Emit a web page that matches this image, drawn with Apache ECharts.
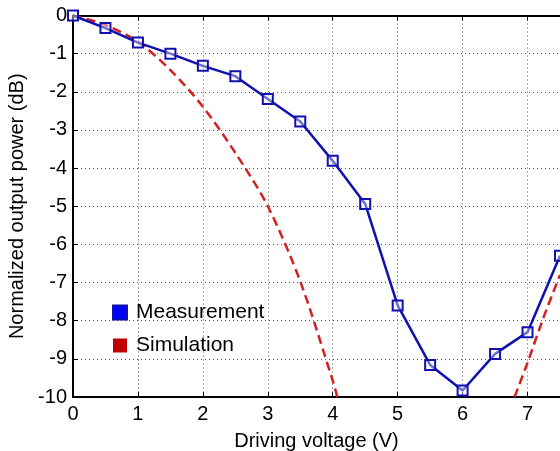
<!DOCTYPE html>
<html>
<head>
<meta charset="utf-8">
<script src="https://cdn.jsdelivr.net/npm/echarts@6/dist/echarts.min.js"></script>
<style>
  html, body { margin: 0; padding: 0; background: #fff; }
  #chart { width: 560px; height: 451px; }
</style>
</head>
<body>
<div id="chart"></div>
<script>
// Measured points (every 0.5 V)
const measX = [0, 0.5, 1, 1.5, 2, 2.5, 3, 3.5, 4, 4.5, 5, 5.5, 6, 6.5, 7, 7.5];
const measY = [0, -0.33, -0.71, -1.0, -1.32, -1.59, -2.19, -2.78, -3.81, -4.94, -7.6, -9.16, -9.83, -8.87, -8.3, -6.3];

// Simulation, two visible branches
const simX1 = [0, 0.5, 1, 1.5, 2, 2.5, 3, 3.5, 4, 4.07];
const simY1 = [0, -0.25, -0.69, -1.43, -2.39, -3.6, -5.0, -6.97, -9.57, -10];
const simX2 = [6.8, 7.0, 7.25, 7.5];
const simY2 = [-10, -9.1, -7.9, -6.8];

const yTicks = ["0", "-1", "-2", "-3", "-4", "-5", "-6", "-7", "-8", "-9", "-10"];

const zip = (xs, ys) => xs.map((x, i) => [x, ys[i]]);

const font = "Liberation Sans, Arial, sans-serif";
const blue = "#1010b0";
const red = "#d42020";

const chart = echarts.init(document.getElementById("chart"));

chart.setOption({
  animation: false,
  grid: { left: 73, top: 15.5, right: 0, bottom: 54, outerBoundsMode: "none", containLabel: false },
  legend: {
    orient: "vertical",
    left: 107,
    top: 297,
    itemWidth: 14,
    itemHeight: 14,
    itemGap: 12,
    icon: "rect",
    textStyle: { fontFamily: font, fontSize: 21, color: "#000", lineHeight: 21, padding: [0, 0, 0, 4] },
    data: [
      { name: "Measurement", itemStyle: { color: "#0000ff" } },
      { name: "Simulation", itemStyle: { color: "#c00000" } }
    ]
  },
  xAxis: [
    {
      type: "value",
      min: 0,
      max: 7.5,
      interval: 1,
      name: "Driving voltage (V)",
      nameLocation: "middle",
      nameGap: 34,
      nameTextStyle: { fontFamily: font, fontSize: 20, color: "#000" },
      axisLine: { onZero: false, lineStyle: { color: "#000", width: 2 } },
      axisTick: { inside: true, length: 5, lineStyle: { color: "#000" } },
      axisLabel: {
        fontFamily: font, fontSize: 20, color: "#000", margin: 7,
        showMaxLabel: false,
        formatter: v => (Number.isInteger(v) ? String(v) : "")
      },
      splitLine: { show: true, lineStyle: { color: "#555", type: [1, 3], width: 1 } }
    },
    {
      type: "value",
      position: "top",
      min: 0,
      max: 7.5,
      interval: 1,
      axisLine: { onZero: false, lineStyle: { color: "#000", width: 2 } },
      axisTick: { inside: true, length: 5, lineStyle: { color: "#000" } },
      axisLabel: { show: false },
      splitLine: { show: false }
    }
  ],
  yAxis: {
    type: "value",
    min: -10,
    max: 0,
    interval: 1,
    name: "Normalized output power (dB)",
    nameLocation: "middle",
    nameGap: 44,
    nameTextStyle: { fontFamily: font, fontSize: 20, color: "#000" },
    axisLine: { onZero: false, lineStyle: { color: "#000", width: 2 } },
    axisTick: { inside: true, length: 5, lineStyle: { color: "#000" } },
    axisLabel: {
      fontFamily: font, fontSize: 20, color: "#000", margin: 6,
      formatter: v => yTicks[Math.round(-v)]
    },
    splitLine: { show: true, lineStyle: { color: "#555", type: [1, 3], width: 1 } }
  },
  series: [
    {
      name: "Simulation",
      type: "line",
      data: zip(simX1, simY1),
      smooth: 0.3,
      showSymbol: false,
      lineStyle: { color: red, width: 2.5, type: [9, 5] },
      itemStyle: { color: red },
      z: 2
    },
    {
      name: "Simulation",
      type: "line",
      data: zip(simX2, simY2),
      smooth: 0.3,
      showSymbol: false,
      lineStyle: { color: red, width: 2.5, type: [9, 5] },
      itemStyle: { color: red },
      z: 2
    },
    {
      name: "Measurement",
      type: "line",
      data: zip(measX, measY),
      symbol: "rect",
      symbolSize: 10,
      clip: false,
      lineStyle: { color: blue, width: 2.5 },
      itemStyle: { color: "rgba(255,255,255,0.4)", borderColor: blue, borderWidth: 2 },
      z: 3
    }
  ]
});
</script>
</body>
</html>
